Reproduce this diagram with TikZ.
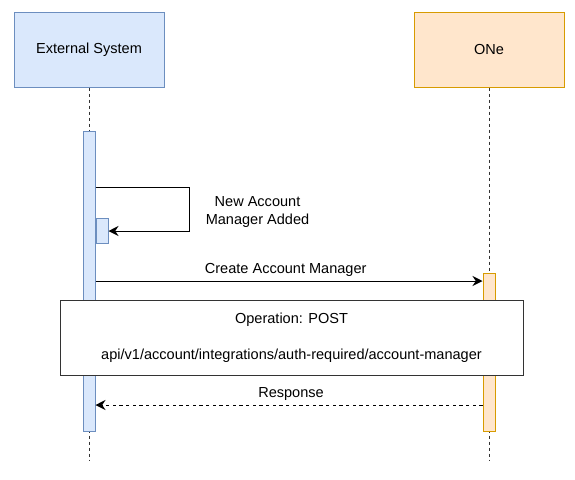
\documentclass[tikz,border=0pt]{standalone}
\usepackage{fontspec}
\setmainfont{Liberation Sans}
\usetikzlibrary{arrows.meta}
\definecolor{bluefill}{HTML}{DAE8FC}
\definecolor{bluedraw}{HTML}{6C8EBF}
\definecolor{orangefill}{HTML}{FFE6CC}
\definecolor{orangedraw}{HTML}{D79B00}
\definecolor{darkline}{HTML}{333333}
\tikzset{
  participant/.style={draw, line width=0.75pt, minimum width=112.5pt, minimum height=56.25pt, inner sep=0pt},
  bluebox/.style={fill=bluefill, draw=bluedraw},
  orangebox/.style={fill=orangefill, draw=orangedraw},
  actbar/.style={draw, line width=0.75pt, minimum width=9pt, inner sep=0pt},
  lifeline/.style={draw=darkline, line width=0.75pt, dash pattern=on 2.25pt off 2.25pt},
  msg/.style={draw=black, line width=0.75pt, -{Stealth[length=7.5pt,width=7.5pt,inset=2.5pt]}},
  retmsg/.style={msg, dash pattern=on 2.5pt off 2.5pt},
  lbl/.style={inner sep=0pt, align=center}
}
\begin{document}
\begin{tikzpicture}[x=0.75pt,y=-0.75pt,font=\fontsize{10.9}{13}\selectfont]
\useasboundingbox (0,0) rectangle (575,479);
% participants
\node[participant,bluebox] (ext) at (89,49.5) {External System};
\node[participant,orangebox] (one) at (489,49.5) {ONe};
% lifelines
\coordinate (extend) at (89,460);
\coordinate (oneend) at (489,460);
\draw[lifeline] (ext.south) -- (extend);
\draw[lifeline] (one.south) -- (oneend);
% activation bars
\node[actbar,bluebox,minimum height=225pt] (lbar) at (89,281) {};
\node[actbar,bluebox,minimum height=18.75pt] (sbar) at (102,230.5) {};
\node[actbar,orangebox,minimum height=118.5pt] (rbar) at (489,352) {};
% self message
\coordinate (loopA) at (189,187);
\coordinate (loopB) at (189,231);
\draw[msg] (lbar.east |- loopA) -- (loopA) -- (loopB) -- (sbar.east |- loopB);
\node[lbl] (selflbl) at (257.5,212) {New Account\\Manager Added};
% create message
\coordinate (createy) at (0,281);
\draw[msg] (lbar.east |- createy) -- (rbar.west |- createy);
\node[lbl] (createlbl) at (285.7,269.5) {Create Account Manager};
% operation box
\node[draw=darkline, fill=white, line width=0.75pt, minimum width=347.25pt, minimum height=56.25pt, align=center, inner sep=0pt] (op) at (291.5,337.5)
  {Operation: POST\\[14pt]api/v1/account/integrations/auth-required/account-manager};
% response
\coordinate (respy) at (0,405);
\draw[retmsg] (rbar.west |- respy) -- (lbar.east |- respy);
\node[lbl] (resplbl) at (291,394.5) {Response};
\end{tikzpicture}
\end{document}
